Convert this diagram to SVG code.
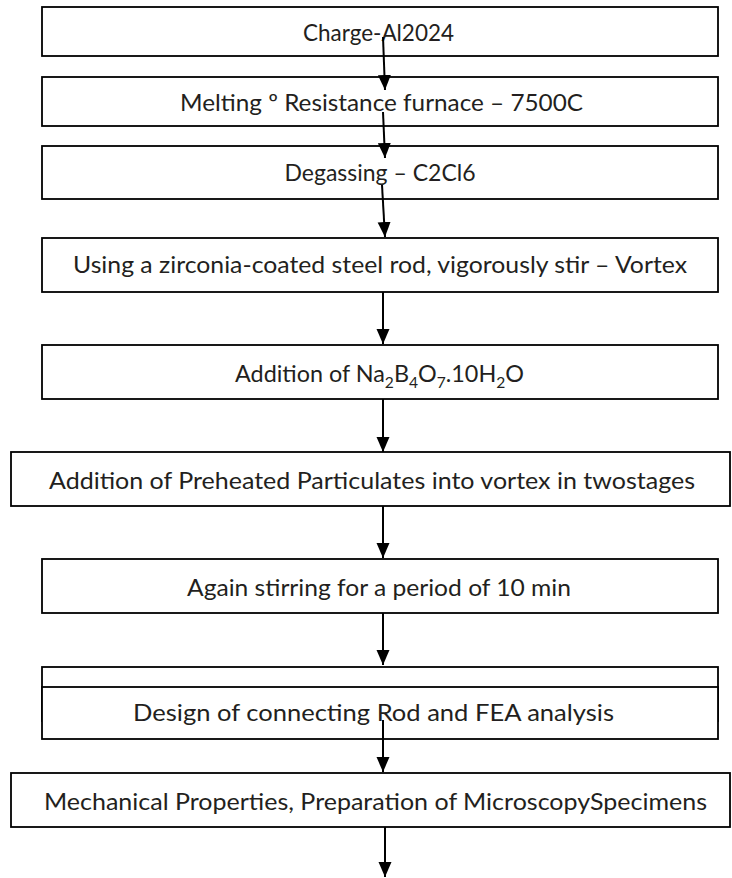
<svg xmlns="http://www.w3.org/2000/svg" width="732" height="878" viewBox="0 0 732 878">
<style>
.box{fill:#ffffff;stroke:#000000;stroke-width:1.8}
.lbl{font-family:Lato,"Liberation Sans",sans-serif;font-size:24px;fill:#231f20;text-anchor:middle}
.sub{font-size:16px}
.con{stroke:#000000;stroke-width:2;fill:none;marker-end:url(#ah)}
</style>
<defs>
<marker id="ah" markerUnits="userSpaceOnUse" markerWidth="16" markerHeight="14" refX="15" refY="6.5" orient="auto">
<path d="M0,0 L15,6.5 L0,13 Z" fill="#000000"/>
</marker>
</defs>
<rect width="732" height="878" fill="#ffffff"/>
<g id="n1"><rect class="box" x="42" y="7" width="676" height="49"/><text class="lbl" x="378.5" y="41" textLength="151" lengthAdjust="spacingAndGlyphs">Charge-Al2024</text></g>
<g id="n2"><rect class="box" x="42" y="77" width="676" height="49"/><text class="lbl" x="381.5" y="111" textLength="403" lengthAdjust="spacingAndGlyphs">Melting º Resistance furnace – 7500C</text></g>
<g id="n3"><rect class="box" x="42" y="146" width="676" height="53"/><text class="lbl" x="380" y="181" textLength="191" lengthAdjust="spacingAndGlyphs">Degassing – C2Cl6</text></g>
<g id="n4"><rect class="box" x="42" y="238" width="676" height="54"/><text class="lbl" x="380" y="273" textLength="614" lengthAdjust="spacingAndGlyphs">Using a zirconia-coated steel rod, vigorously stir – Vortex</text></g>
<g id="n5"><rect class="box" x="42" y="345" width="676" height="54"/><text class="lbl" x="379.5" y="382" textLength="289" lengthAdjust="spacingAndGlyphs">Addition of Na<tspan class="sub" dy="6">2</tspan><tspan dy="-6">B</tspan><tspan class="sub" dy="6">4</tspan><tspan dy="-6">O</tspan><tspan class="sub" dy="6">7</tspan><tspan dy="-6">.10H</tspan><tspan class="sub" dy="6">2</tspan><tspan dy="-6">O</tspan></text></g>
<g id="n6"><rect class="box" x="11" y="452" width="719" height="54"/><text class="lbl" x="372" y="489" textLength="646" lengthAdjust="spacingAndGlyphs">Addition of Preheated Particulates into vortex in twostages</text></g>
<g id="n7"><rect class="box" x="42" y="559" width="676" height="54"/><text class="lbl" x="379" y="596" textLength="384" lengthAdjust="spacingAndGlyphs">Again stirring for a period of 10 min</text></g>
<g id="n8"><rect class="box" x="42" y="667" width="676" height="54"/></g>
<g id="n9"><rect class="box" x="42" y="687" width="676" height="52"/><text class="lbl" x="373.5" y="721" textLength="481" lengthAdjust="spacingAndGlyphs">Design of connecting Rod and FEA analysis</text></g>
<g id="n10"><rect class="box" x="11" y="773" width="719" height="54"/><text class="lbl" x="375.5" y="810" textLength="663" lengthAdjust="spacingAndGlyphs">Mechanical Properties, Preparation of MicroscopySpecimens</text></g>
<g id="connectors">
<path class="con" d="M383,37 L385,90"/>
<path class="con" d="M383,112 L385,158"/>
<path class="con" d="M382,185 L385,237"/>
<path class="con" d="M383,292 L383,344"/>
<path class="con" d="M383,399 L383,452"/>
<path class="con" d="M383,506 L383,558"/>
<path class="con" d="M383,613 L383,665"/>
<path class="con" d="M383,720 L383,772"/>
<path class="con" d="M385,827 L385,877"/>
</g>
</svg>
